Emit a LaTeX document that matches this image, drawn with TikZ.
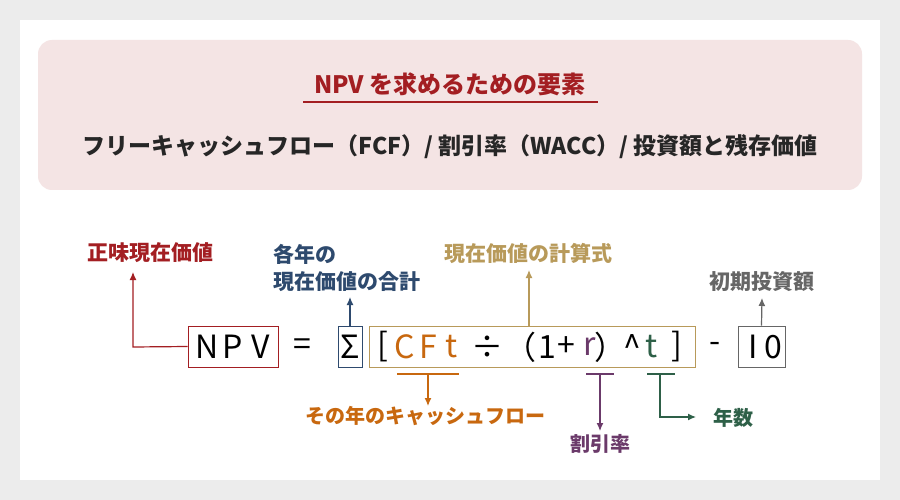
\documentclass[tikz,border=0pt]{standalone}
\usepackage{fontspec}
\usetikzlibrary{arrows.meta}
\setmainfont{Noto Sans CJK JP}
\newfontfamily\fm{Noto Sans CJK JP}
\begin{document}
\begin{tikzpicture}[x=1pt,y=-1pt,>={Latex[length=8pt,width=7pt]},
 lab/.style={font=\fontsize{20}{27}\selectfont\bfseries,inner sep=1pt,align=center},
 ch/.style={font=\fontsize{32}{32}\selectfont\fm,inner sep=0pt,anchor=center},
 bx/.style={draw,line width=0.8pt},
 ln/.style={line width=1.2pt}]
\definecolor{cred}{HTML}{A31E22}\definecolor{cblue}{HTML}{2E4A6E}
\definecolor{cgold}{HTML}{B89A5A}\definecolor{cgray}{HTML}{666666}
\definecolor{corg}{HTML}{C8680F}\definecolor{cpur}{HTML}{6B3A6A}
\definecolor{cgrn}{HTML}{2E6048}\definecolor{pink}{HTML}{F4E4E4}
\fill[gray!15] (0,0) rectangle (900,500);
\fill[white] (20,20) rectangle (880,480);
\fill[pink,rounded corners=14pt] (38,40) rectangle (862,190);
\node[font=\fontsize{24}{28}\selectfont\bfseries,text=cred] (title) at (450,84) {NPV を求めるための要素};
\draw[cred,line width=1.2pt] (303,102) -- (598,102);
\node[font=\fontsize{23}{26}\selectfont\bfseries,text=black!85] (sub) at (450,147) {フリーキャッシュフロー（FCF）/ 割引率（WACC）/ 投資額と残存価値};
% boxes
\node[bx,draw=cred,minimum width=90,minimum height=41] (npv) at (233,346.5) {};
\node[bx,draw=cblue,minimum width=24,minimum height=41] (sig) at (350,346.5) {};
\node[bx,draw=cgold,minimum width=326,minimum height=41] (big) at (532,346.5) {};
\node[bx,draw=cgray,minimum width=47,minimum height=41] (io) at (761.5,346.5) {};
% chars
\foreach \c/\x/\col in {N/207/black,P/233/black,V/261/black,=/302/black,Σ/350/black,[/383/black,C/405/corg,F/428/corg,t/452/corg,÷/487/black,（/520/black,1/547/black,+/566/black,r/590/cpur,）/610/black,\^{}/632/black,t/652/cgrn,]/677/black,-/715/black,I/753/black,0/773/black}
  \node[ch,text=\col] at (\x,347) {\c};
% labels
\node[lab,text=cred,font=\fontsize{21}{27}\selectfont\bfseries] (l1) at (150,253) {正味現在価値};
\node[lab,text=cblue,align=left,anchor=west,font=\fontsize{21}{27}\selectfont\bfseries] (l2) at (272,268) {各年の\\現在価値の合計};
\node[lab,text=cgold,font=\fontsize{21}{27}\selectfont\bfseries] (l3) at (528,253) {現在価値の計算式};
\node[lab,text=cgray,font=\fontsize{21}{27}\selectfont\bfseries] (l4) at (762,282) {初期投資額};
\node[lab,text=corg] (l5) at (425,416) {その年のキャッシュフロー};
\node[lab,text=cpur] (l6) at (600,444) {割引率};
\node[lab,text=cgrn] (l7) at (733,418) {年数};
\draw[->,ln,cred] (npv.west) -- (133,347) -- (133,272);
\draw[->,ln,cblue] (sig.north) -- (350,297);
\draw[->,ln,cgold] (529,326) -- (529,270);
\draw[->,ln,cgray] (io.north) -- (762,298);
\coordinate (c1) at (428,374);\coordinate (c2) at (600,374);\coordinate (c3) at (660,374);
\draw[ln,corg] (397,374) -- (459,374); \draw[->,ln,corg] (c1) -- (428,406);
\draw[ln,cpur] (586,374) -- (614,374); \draw[->,ln,cpur] (c2) -- (600,431);
\draw[ln,cgrn] (647,374) -- (675,374); \draw[->,ln,cgrn] (c3) -- (660,417) -- (696,417);
\end{tikzpicture}
\end{document}
